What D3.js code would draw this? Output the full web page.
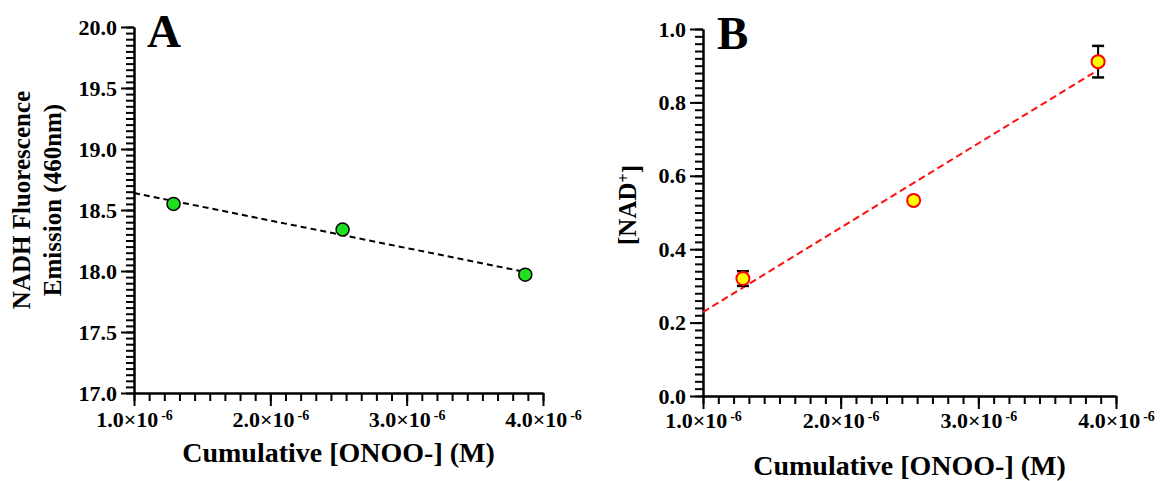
<!DOCTYPE html>
<html>
<head>
<meta charset="utf-8">
<script src="https://cdn.jsdelivr.net/npm/d3@7"></script>
<style>
  body { margin: 0; background: #fff; }
</style>
</head>
<body>
<svg id="chart" width="1165" height="481"></svg>
<script>
// cumulative peroxynitrite dose (M)
const onooConc = [1.29e-6, 2.53e-6, 3.87e-6];
// panel A: NADH fluorescence emission at 460nm
const nadhFluor = [18.55, 18.34, 17.97];
// panel B: NAD+ formed, with SD
const nadPlus = [0.32, 0.533, 0.911];
const nadPlusErr = [0.02, 0, 0.043];

const xTicks = [1e-6, 2e-6, 3e-6, 4e-6];
const yTicksA = [17.0, 17.5, 18.0, 18.5, 19.0, 19.5, 20.0];
const yTicksB = [0.0, 0.2, 0.4, 0.6, 0.8, 1.0];

const FONT = '"Liberation Serif", "DejaVu Serif", serif';
const svg = d3.select('#chart');

// least squares fit, used for the dashed trend lines
function linfit(xs, ys) {
    let mx = d3.mean(xs), my = d3.mean(ys);
    let sxy = 0, sxx = 0;
    xs.forEach((v, i) => { sxy += (v - mx) * (ys[i] - my); sxx += (v - mx) * (v - mx); });
    let slope = sxy / sxx;
    return v => my + slope * (v - mx);
}

function txt(sel, size) {
    sel.style('font-family', FONT).style('font-weight', 'bold').style('font-size', size + 'px').attr('fill', '#000');
}

function drawPanel(p) {
    let x = d3.scaleLinear().domain([1e-6, 4e-6]).range([p.left, p.right]);
    let y = d3.scaleLinear().domain(p.yDomain).range([p.bottom, p.top]);
    let g = svg.append('g');

    // minor ticks: 9 steps per x major, yMinorCount steps over the y range
    let xMinor = d3.range(0, 28).map(i => 1e-6 + i * 1e-6 / 9);
    let yStep = (p.yDomain[1] - p.yDomain[0]) / p.yMinorCount;
    let yMinor = d3.range(0, p.yMinorCount + 1).map(i => p.yDomain[0] + i * yStep);

    g.append('g').attr('transform', 'translate(0,' + p.bottom + ')')
        .call(d3.axisBottom(x).tickValues(xMinor).tickSize(8).tickSizeOuter(0).tickFormat(() => ''));
    g.append('g').attr('transform', 'translate(' + p.left + ',0)')
        .call(d3.axisLeft(y).tickValues(yMinor).tickSize(8).tickSizeOuter(0).tickFormat(() => ''));

    let xAxis = g.append('g').attr('transform', 'translate(0,' + p.bottom + ')')
        .call(d3.axisBottom(x).tickValues(xTicks).tickSize(13).tickSizeOuter(0).tickFormat(() => ''));
    xAxis.selectAll('.tick').append('text')
        .attr('y', 13 + p.xPad).attr('dy', '0.71em')
        .attr('text-anchor', 'middle')
        .call(txt, 22)
        .each(function (d) {
            let t = d3.select(this);
            t.append('tspan').text((d / 1e-6).toFixed(1) + '×10');
            t.append('tspan').attr('dx', 3).attr('dy', '-0.45em').style('font-size', '14px').text('-6');
        });

    let yAxis = g.append('g').attr('transform', 'translate(' + p.left + ',0)')
        .call(d3.axisLeft(y).tickValues(p.yTicks).tickSize(13).tickSizeOuter(0).tickPadding(4)
            .tickFormat(d3.format('.1f')));
    yAxis.selectAll('text').call(txt, 22);

    g.selectAll('.domain, .tick line').attr('stroke', '#000').attr('stroke-width', 2);

    // panel letter
    g.append('text').attr('x', p.left + p.letterDx).attr('y', p.top + 20)
        .call(txt, 47).text(p.letter);

    // axis titles
    g.append('text').attr('x', (p.left + p.right) / 2).attr('y', p.xTitleY)
        .attr('text-anchor', 'middle').call(txt, 28)
        .text('Cumulative [ONOO-] (M)');

    let yt = g.append('text').attr('transform', 'translate(' + p.yTitleX + ',' + p.yTitleY + ') rotate(-90)')
        .attr('text-anchor', 'middle').call(txt, 25);
    p.yTitle(yt);

    // trend line from x axis origin to last dose
    let fit = linfit(onooConc.map(v => v / 1e-6), p.values);
    let xEnd = d3.max(onooConc);
    g.append('path')
        .datum([1e-6, xEnd])
        .attr('d', d3.line().x(d => x(d)).y(d => y(fit(d / 1e-6))))
        .attr('stroke', p.lineColor).attr('stroke-width', 2)
        .attr('stroke-dasharray', p.dash).attr('fill', 'none');

    // error bars
    if (p.errors) {
        let eb = g.append('g').selectAll('g')
            .data(onooConc.map((c, i) => [c, p.values[i], p.errors[i]]).filter(d => d[2] > 0))
            .enter().append('g');
        eb.append('line').attr('x1', d => x(d[0])).attr('x2', d => x(d[0]))
            .attr('y1', d => y(d[1] - d[2])).attr('y2', d => y(d[1] + d[2]))
            .attr('stroke', '#000').attr('stroke-width', 2);
        [-1, 1].forEach(s => {
            eb.append('line').attr('x1', d => x(d[0]) - 6).attr('x2', d => x(d[0]) + 6)
                .attr('y1', d => y(d[1] + s * d[2])).attr('y2', d => y(d[1] + s * d[2]))
                .attr('stroke', '#000').attr('stroke-width', 2.5);
        });
    }

    g.append('g').selectAll('circle').data(onooConc).enter().append('circle')
        .attr('cx', d => x(d)).attr('cy', (d, i) => y(p.values[i]))
        .attr('r', 6.5)
        .attr('fill', p.fill).attr('stroke', p.stroke).attr('stroke-width', p.strokeW);
}

drawPanel({
    left: 134, right: 543, top: 27, bottom: 393,
    yDomain: [17, 20], yTicks: yTicksA, yMinorCount: 60,
    values: nadhFluor, letter: 'A', letterDx: 13,
    xPad: 5, xTitleY: 462, yTitleX: 30, yTitleY: 200,
    yTitle: t => {
        t.append('tspan').attr('x', 0).attr('dy', 0).text('NADH Fluorescence');
        t.append('tspan').attr('x', 0).attr('dy', 31).text('Emission (460nm)');
    },
    lineColor: '#000', dash: '6,4',
    fill: '#1ee01e', stroke: '#000', strokeW: 1.5
});

drawPanel({
    left: 703, right: 1116, top: 29, bottom: 396,
    yDomain: [0, 1], yTicks: yTicksB, yMinorCount: 50,
    values: nadPlus, errors: nadPlusErr, letter: 'B', letterDx: 14,
    xPad: 3, xTitleY: 475, yTitleX: 636, yTitleY: 205,
    yTitle: t => {
        t.append('tspan').text('[NAD');
        t.append('tspan').attr('dy', '-0.45em').style('font-size', '16px').text('+');
        t.append('tspan').attr('dy', '0.45em').text(']');
    },
    lineColor: '#ff1010', dash: '7,4',
    fill: '#ffff00', stroke: '#ff0000', strokeW: 2
});
</script>
</body>
</html>
